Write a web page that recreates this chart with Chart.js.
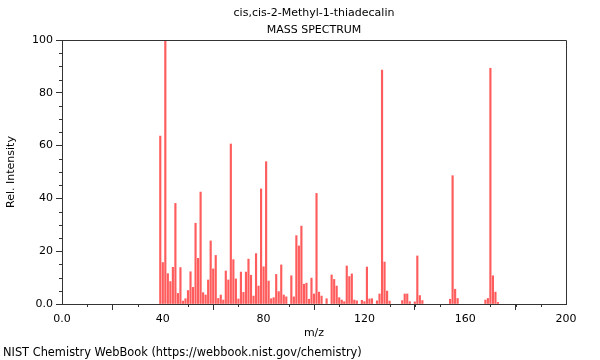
<!DOCTYPE html>
<html><head><meta charset="utf-8">
<script src="https://cdn.jsdelivr.net/npm/chart.js@4/dist/chart.umd.min.js"></script>
<style>html,body{margin:0;padding:0;background:#fff}</style>
</head><body>
<canvas id="c" width="600" height="360"></canvas>
<script>
const titleLines = ['cis,cis-2-Methyl-1-thiadecalin', 'MASS SPECTRUM'];
const xTitle = 'm/z';
const yTitle = 'Rel. Intensity';
const footer = 'NIST Chemistry WebBook (https://webbook.nist.gov/chemistry)';
const mz = [39,40,41,42,43,44,45,46,47,48,49,50,51,52,53,54,55,56,57,58,59,60,61,62,63,64,65,66,67,68,69,70,71,72,73,74,75,76,77,78,79,80,81,82,83,84,85,86,87,88,89,91,92,93,94,95,96,97,98,99,100,101,102,103,105,107,108,109,110,111,112,113,114,115,116,117,119,120,121,122,123,125,126,127,128,129,130,135,136,137,138,140,141,142,143,154,155,156,157,168,169,170,171,172,173];
const intensity = [63.6,15.7,100,11.5,8.5,13.9,38.1,4.0,13.8,1.1,2.0,5.1,12.2,6.3,30.6,17.3,42.4,4.3,3.4,9.1,23.9,13.3,18.4,2.1,3.4,1.5,12.5,9.1,60.6,16.8,9.5,1.9,12.1,4.4,12.1,17.0,10.9,3.0,19.1,6.8,43.6,14.1,53.9,8.7,2.0,2.4,11.2,4.7,14.8,3.4,2.7,10.7,2.7,25.9,22.0,29.5,7.5,7.9,1.8,9.8,3.8,41.9,4.5,3.0,2.0,11.0,9.3,6.8,2.4,1.5,0.9,14.4,10.4,11.4,1.5,1.2,1.4,0.9,14.0,1.9,2.0,1.2,3.8,88.6,15.9,4.9,1.1,1.3,3.8,3.8,0.9,0.8,18.2,3.2,1.3,1.8,48.6,5.6,2.1,1.5,2.1,89.3,10.7,4.5,0.6];
const xRange = [0, 200];
const yRange = [0, 100];
const xMajorStep = 40, xMinorStep = 10;
const yMajorStep = 20, yMinorStep = 5;

const FONT = '"DejaVu Sans", sans-serif';
const AXIS = '#333';

const decor = {
  id: 'decor',
  afterDraw(chart) {
    const ctx = chart.ctx, a = chart.chartArea;
    const xs = chart.scales.x, ys = chart.scales.y;
    ctx.save();
    ctx.strokeStyle = AXIS; ctx.lineWidth = 1;
    ctx.beginPath();
    ctx.moveTo(Math.round(a.left) + 0.5, Math.round(a.top) + 0.5);
    ctx.lineTo(Math.round(a.right) + 0.5, Math.round(a.top) + 0.5);
    ctx.lineTo(Math.round(a.right) + 0.5, Math.round(a.bottom) + 0.5);
    ctx.stroke();
    ctx.beginPath();
    for (let v = xRange[0]; v <= xRange[1]; v += xMinorStep) {
      if (v % xMajorStep === 0) continue;
      const px = Math.round(xs.getPixelForValue(v)) + 0.5;
      ctx.moveTo(px, a.bottom); ctx.lineTo(px, a.bottom + 3);
    }
    for (let v = yRange[0]; v <= yRange[1]; v += yMinorStep) {
      if (v % yMajorStep === 0) continue;
      const py = Math.round(ys.getPixelForValue(v)) + 0.5;
      ctx.moveTo(a.left - 3, py); ctx.lineTo(a.left, py);
    }
    ctx.stroke();
    ctx.fillStyle = '#000';
    ctx.font = '11px ' + FONT;
    ctx.textAlign = 'center'; ctx.textBaseline = 'middle';
    const cx = (a.left + a.right) / 2;
    ctx.fillText(titleLines[0], cx, 13);
    ctx.fillText(titleLines[1], cx, 30);
    ctx.fillText(xTitle, cx, 333);
    ctx.save();
    ctx.translate(11, (a.top + a.bottom) / 2);
    ctx.rotate(-Math.PI / 2);
    ctx.fillText(yTitle, 0, 0);
    ctx.restore();
    ctx.textAlign = 'left';
    ctx.font = '11.4px ' + FONT;
    ctx.fillText(footer, 3, 353);
    ctx.restore();
  }
};

new Chart(document.getElementById('c'), {
  type: 'bar',
  data: {
    datasets: [{
      data: mz.map((m, i) => ({x: m, y: intensity[i]})),
      backgroundColor: 'rgba(255,30,30,0.72)',
      borderWidth: 0,
      barThickness: 1.5
    }]
  },
  options: {
    responsive: false,
    animation: false,
    devicePixelRatio: 1,
    layout: {padding: {top: 40, right: 34, bottom: 0, left: 0}},
    plugins: {legend: {display: false}, tooltip: {enabled: false}, title: {display: false}},
    scales: {
      x: {
        type: 'linear', min: xRange[0], max: xRange[1], offset: false,
        afterFit: s => { s.height = 56; },
        ticks: {stepSize: xMajorStep, autoSkip: false, maxRotation: 0, padding: 3, color: '#000',
          font: {family: FONT, size: 11}, callback: v => v === 0 ? '0.0' : String(v)},
        grid: {display: true, drawOnChartArea: false, drawTicks: true, tickLength: 6, color: AXIS},
        border: {display: true, color: AXIS}
      },
      y: {
        min: yRange[0], max: yRange[1],
        afterFit: s => { s.width = 62; },
        ticks: {stepSize: yMajorStep, padding: 3, color: '#000',
          font: {family: FONT, size: 11}, callback: v => v === 0 ? '0.0' : String(v)},
        grid: {display: true, drawOnChartArea: false, drawTicks: true, tickLength: 6, color: AXIS},
        border: {display: true, color: AXIS}
      }
    }
  },
  plugins: [decor]
});
</script>
</body></html>
